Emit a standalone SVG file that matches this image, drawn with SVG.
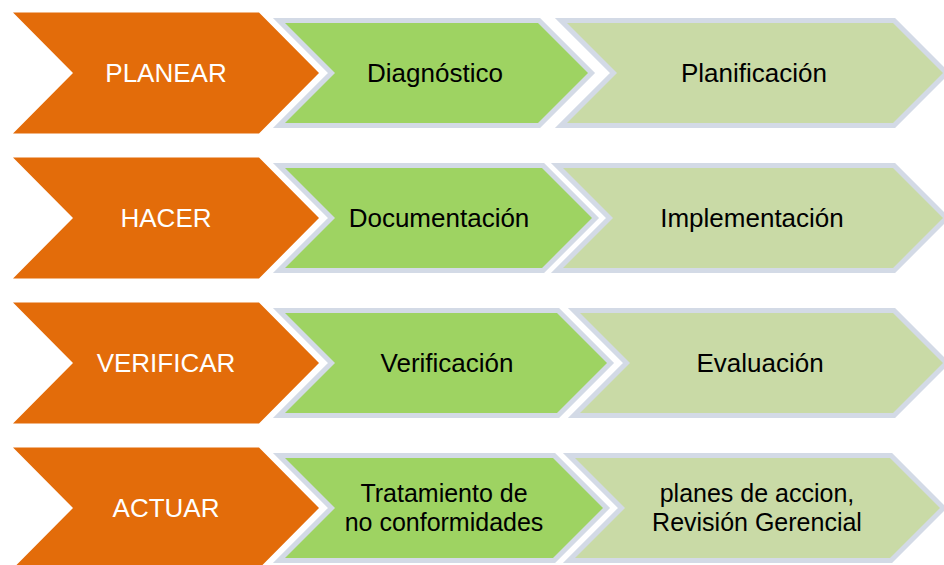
<svg xmlns="http://www.w3.org/2000/svg" width="944" height="565" viewBox="0 0 944 565">
<style>
.or{fill:#E36C0A;stroke:#ffffff;stroke-width:4;paint-order:stroke;stroke-linejoin:miter}
.gr{fill:#9ED362;stroke:#D3DAE6;stroke-width:10;paint-order:stroke;stroke-linejoin:miter}
.lg{fill:#C9DAA6;stroke:#D3DAE6;stroke-width:10;paint-order:stroke;stroke-linejoin:miter}
text{font-family:"Liberation Sans",Arial,sans-serif;font-size:26px;text-anchor:middle}
.t2{font-size:25px}
.w{fill:#ffffff}
.b{fill:#000000}
</style>
<rect width="944" height="565" fill="#ffffff"/>
<g id="connectors"/>
<g id="row1">
<g id="planificacion"><polygon class="lg" points="567,23 893,23 943,73 893,123 567,123 617,73"/><text class="b" x="754" y="82">Planificación</text></g>
<g id="diagnostico"><polygon class="gr" points="285,23 538,23 588,73 538,123 285,123 335,73"/><text class="b" x="435" y="82">Diagnóstico</text></g>
<g id="planear"><polygon class="or" points="13,12.5 259,12.5 319,73 259,133.5 13,133.5 73,73"/><text class="w" x="166" y="82">PLANEAR</text></g>
</g>
<g id="row2">
<g id="implementacion"><polygon class="lg" points="563,168 893,168 943,218 893,268 563,268 613,218"/><text class="b" x="752" y="227">Implementación</text></g>
<g id="documentacion"><polygon class="gr" points="285,168 542,168 592,218 542,268 285,268 335,218"/><text class="b" x="439" y="227">Documentación</text></g>
<g id="hacer"><polygon class="or" points="13,157.5 259,157.5 319,218 259,278.5 13,278.5 73,218"/><text class="w" x="166" y="227">HACER</text></g>
</g>
<g id="row3">
<g id="evaluacion"><polygon class="lg" points="580,313 893,313 943,363 893,413 580,413 630,363"/><text class="b" x="760" y="372">Evaluación</text></g>
<g id="verificacion"><polygon class="gr" points="285,313 557,313 607,363 557,413 285,413 335,363"/><text class="b" x="447" y="372">Verificación</text></g>
<g id="verificar"><polygon class="or" points="13,302.5 259,302.5 319,363 259,423.5 13,423.5 73,363"/><text class="w" x="166" y="372">VERIFICAR</text></g>
</g>
<g id="row4">
<g id="planes"><polygon class="lg" points="575,458 890,458 940,508 890,558 575,558 625,508"/><text class="b t2" x="757" y="502">planes de accion,</text><text class="b t2" x="757" y="531">Revisión Gerencial</text></g>
<g id="tratamiento"><polygon class="gr" points="285,458 553,458 603,508 553,558 285,558 335,508"/><text class="b t2" x="444" y="502">Tratamiento de</text><text class="b t2" x="444" y="531">no conformidades</text></g>
<g id="actuar"><polygon class="or" points="13,447.5 259,447.5 319,508 259,568.5 13,568.5 73,508"/><text class="w" x="166" y="517">ACTUAR</text></g>
</g>
</svg>
